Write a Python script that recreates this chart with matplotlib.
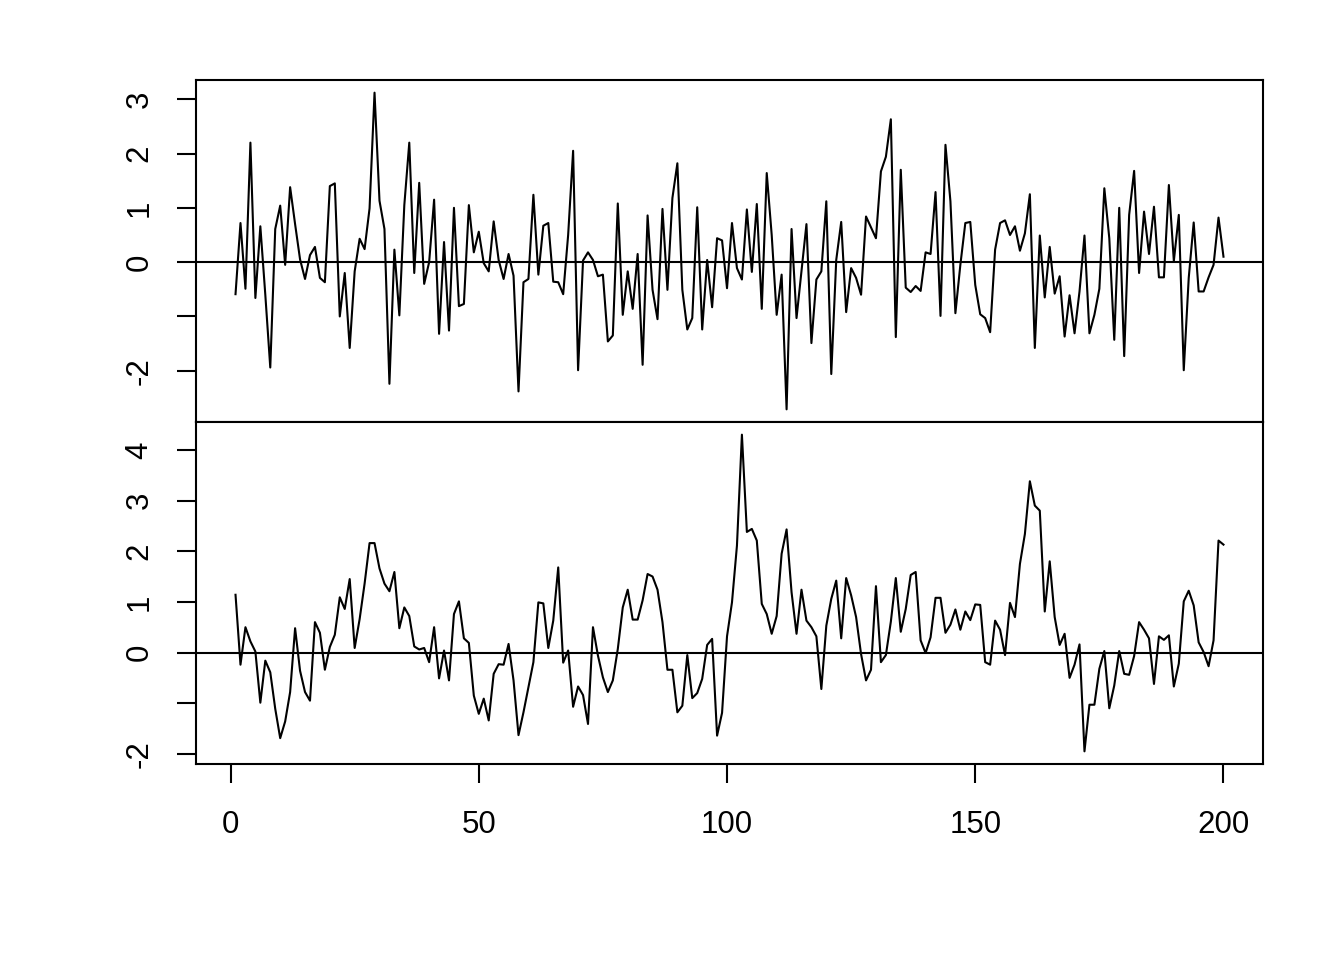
import matplotlib
matplotlib.use("Agg")
import matplotlib.pyplot as plt
import numpy as np

plt.rcParams['font.family'] = ['Liberation Sans', 'DejaVu Sans']

series_top = [
    -0.59, 0.72, -0.49, 2.20, -0.66, 0.66, -0.60, -1.94, 0.61, 1.04,
    -0.05, 1.38, 0.70, 0.05, -0.31, 0.13, 0.28, -0.29, -0.37, 1.40,
    1.45, -1.00, -0.20, -1.58, -0.17, 0.43, 0.24, 0.99, 3.12, 1.13,
    0.61, -2.24, 0.23, -0.98, 1.05, 2.20, -0.20, 1.46, -0.40, 0.00,
    1.15, -1.32, 0.37, -1.26, 1.00, -0.81, -0.77, 1.05, 0.18, 0.56,
    -0.02, -0.17, 0.75, 0.04, -0.31, 0.15, -0.25, -2.38, -0.37, -0.31,
    1.24, -0.23, 0.67, 0.72, -0.36, -0.37, -0.59, 0.50, 2.05, -1.99,
    0.03, 0.18, 0.04, -0.26, -0.23, -1.46, -1.35, 1.08, -0.97, -0.17,
    -0.86, 0.15, -1.89, 0.86, -0.51, -1.05, 0.98, -0.51, 1.18, 1.82,
    -0.51, -1.24, -1.03, 1.01, -1.24, 0.04, -0.83, 0.44, 0.40, -0.48,
    0.72, -0.11, -0.32, 0.97, -0.18, 1.07, -0.86, 1.64, 0.50, -0.97,
    -0.23, -2.71, 0.61, -1.03, -0.17, 0.70, -1.49, -0.32, -0.17, 1.12,
    -2.06, 0.04, 0.74, -0.92, -0.11, -0.29, -0.60, 0.84, 0.64, 0.44,
    1.67, 1.94, 2.63, -1.38, 1.70, -0.47, -0.55, -0.44, -0.53, 0.18,
    0.15, 1.29, -0.99, 2.16, 1.12, -0.94, -0.05, 0.72, 0.74, -0.42,
    -0.96, -1.03, -1.29, 0.23, 0.72, 0.77, 0.50, 0.66, 0.21, 0.53,
    1.25, -1.58, 0.49, -0.65, 0.28, -0.58, -0.26, -1.37, -0.61, -1.31,
    -0.54, 0.49, -1.31, -0.97, -0.49, 1.36, 0.44, -1.43, 1.00, -1.73,
    0.87, 1.68, -0.20, 0.93, 0.15, 1.02, -0.28, -0.28, 1.42, 0.02,
    0.87, -1.99, -0.29, 0.73, -0.54, -0.54, -0.28, -0.05, 0.82, 0.10,
]
series_bottom = [
    1.14, -0.24, 0.50, 0.22, 0.02, -0.99, -0.16, -0.39, -1.11, -1.69,
    -1.36, -0.78, 0.48, -0.36, -0.78, -0.95, 0.60, 0.39, -0.34, 0.11,
    0.35, 1.09, 0.86, 1.45, 0.09, 0.66, 1.36, 2.16, 2.16, 1.66,
    1.36, 1.21, 1.59, 0.48, 0.89, 0.72, 0.12, 0.06, 0.09, -0.19,
    0.50, -0.51, 0.04, -0.55, 0.76, 1.01, 0.28, 0.19, -0.85, -1.21,
    -0.91, -1.34, -0.42, -0.23, -0.24, 0.17, -0.55, -1.63, -1.18, -0.68,
    -0.19, 0.99, 0.97, 0.09, 0.63, 1.68, -0.20, 0.04, -1.07, -0.67,
    -0.84, -1.41, 0.50, -0.06, -0.49, -0.78, -0.55, 0.07, 0.89, 1.24,
    0.65, 0.65, 1.03, 1.55, 1.50, 1.24, 0.60, -0.34, -0.34, -1.18,
    -1.05, -0.05, -0.90, -0.80, -0.52, 0.15, 0.27, -1.64, -1.19, 0.32,
    0.99, 2.11, 4.30, 2.38, 2.44, 2.21, 0.96, 0.76, 0.37, 0.72,
    1.95, 2.43, 1.19, 0.37, 1.24, 0.63, 0.50, 0.32, -0.72, 0.53,
    1.06, 1.42, 0.28, 1.47, 1.13, 0.70, -0.03, -0.55, -0.34, 1.31,
    -0.19, -0.05, 0.61, 1.47, 0.41, 0.86, 1.53, 1.59, 0.24, -0.01,
    0.30, 1.08, 1.08, 0.39, 0.55, 0.85, 0.45, 0.81, 0.64, 0.95,
    0.94, -0.19, -0.24, 0.63, 0.45, -0.05, 0.98, 0.70, 1.75, 2.34,
    3.38, 2.90, 2.80, 0.81, 1.80, 0.70, 0.15, 0.37, -0.50, -0.24,
    0.16, -1.95, -1.03, -1.03, -0.32, 0.03, -1.10, -0.65, 0.03, -0.42,
    -0.44, -0.07, 0.60, 0.45, 0.28, -0.62, 0.32, 0.25, 0.34, -0.67,
    -0.22, 1.01, 1.22, 0.93, 0.20, 0.01, -0.27, 0.24, 2.21, 2.13,
]
t = np.arange(1, 201)

top_ticks = [-2, -1, 0, 1, 2, 3]
top_labels = ["-2", "", "0", "1", "2", "3"]
bottom_ticks = [-2, -1, 0, 1, 2, 3, 4]
bottom_labels = ["-2", "", "0", "1", "2", "3", "4"]
x_ticks = [0, 50, 100, 150, 200]

fig = plt.figure(figsize=(13.44, 9.6), dpi=100)
left, width = 196 / 1344, (1263 - 196) / 1344
ax1 = fig.add_axes([left, 1 - 422 / 960, width, 342 / 960])
ax2 = fig.add_axes([left, 1 - 764 / 960, width, 342 / 960])


def r_lim(v):
    lo, hi = min(v), max(v)
    pad = (hi - lo) * 0.04
    return lo - pad, hi + pad


for ax, y, ticks, labels in [(ax1, series_top, top_ticks, top_labels),
                             (ax2, series_bottom, bottom_ticks, bottom_labels)]:
    ax.plot(t, y, color="black", lw=1.5)
    ax.axhline(0, color="black", lw=1.5)
    ax.set_xlim(r_lim(t))
    ax.set_ylim(r_lim(y))
    ax.set_yticks(ticks)
    ax.set_yticklabels(labels, rotation=90, va="center")
    for s in ax.spines.values():
        s.set_linewidth(1.5)
    ax.tick_params(axis="y", direction="out", length=14, width=1.5,
                   labelsize=22.5, pad=16)

ax1.tick_params(axis="x", bottom=False, labelbottom=False)
ax2.set_xticks(x_ticks)
ax2.tick_params(axis="x", direction="out", length=14, width=1.5,
                labelsize=22.5, pad=19)

fig.savefig("out.png", dpi=100)
